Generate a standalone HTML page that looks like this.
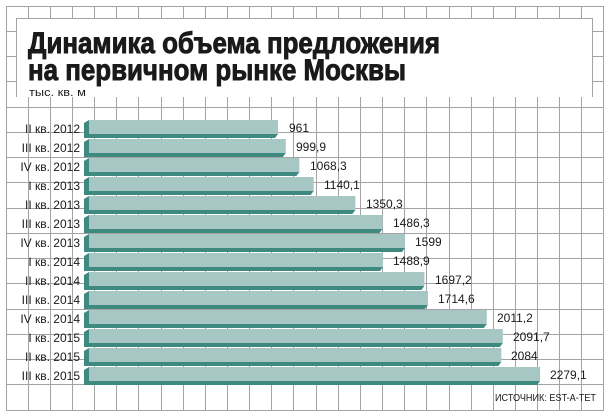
<!DOCTYPE html>
<html><head><meta charset="utf-8"><style>
html,body{margin:0;padding:0;background:#fff}
svg{display:block}
text{font-family:"Liberation Sans","DejaVu Sans",sans-serif;fill:#1a1a1a}
</style></head><body>
<svg width="612" height="418" viewBox="0 0 612 418" xmlns="http://www.w3.org/2000/svg">
<rect width="612" height="418" fill="#fff"/>
<g stroke="#a3a3a3" stroke-width="1" fill="none">
<path d="M6.5 6V410M28.5 6V410M50.5 6V410M72.5 6V410M94.5 6V410M116.5 6V410M138.5 6V410M161.5 6V410M183.5 6V410M205.5 6V410M227.5 6V410M249.5 6V410M271.5 6V410M293.5 6V410M316.5 6V410M338.5 6V410M360.5 6V410M382.5 6V410M404.5 6V410M426.5 6V410M449.5 6V410M471.5 6V410M493.5 6V410M515.5 6V410M537.5 6V410M559.5 6V410M581.5 6V410M603.5 6V410"/>
<path d="M6 6.5H604M6 31.5H604M6 56.5H604M6 81.5H604M6 107.5H604M6 132.5H604M6 157.5H604M6 182.5H604M6 208.5H604M6 233.5H604M6 258.5H604M6 283.5H604M6 309.5H604M6 334.5H604M6 359.5H604M6 384.5H604M6 410.5H604"/>
</g>
<rect x="16" y="18" width="577" height="79" fill="#fff"/>
<path d="M16.5 97V18.5H592.5V97" stroke="#a3a3a3" fill="none"/>
<rect x="27" y="85" width="62" height="12" fill="#fff"/>
<text x="28" y="53" font-size="30" font-weight="bold" stroke="#1a1a1a" stroke-width="0.9" textLength="412" lengthAdjust="spacingAndGlyphs">Динамика объема предложения</text>
<text x="28" y="80" font-size="30" font-weight="bold" stroke="#1a1a1a" stroke-width="0.9" textLength="378" lengthAdjust="spacingAndGlyphs">на первичном рынке Москвы</text>
<text x="29" y="96" font-size="11" textLength="57" lengthAdjust="spacingAndGlyphs">тыс. кв. м</text>
<g font-size="12" text-anchor="end">
<text x="80" y="133">II кв. 2012</text>
<text x="80" y="152">III кв. 2012</text>
<text x="80" y="171">IV кв. 2012</text>
<text x="80" y="190">I кв. 2013</text>
<text x="80" y="209">II кв. 2013</text>
<text x="80" y="228">III кв. 2013</text>
<text x="80" y="247">IV кв. 2013</text>
<text x="80" y="266">I кв. 2014</text>
<text x="80" y="285">II кв. 2014</text>
<text x="80" y="304">III кв. 2014</text>
<text x="80" y="323">IV кв. 2014</text>
<text x="80" y="342">I кв. 2015</text>
<text x="80" y="361">II кв. 2015</text>
<text x="80" y="380">III кв. 2015</text>
</g>
<g fill="#a7c7c4">
<rect x="89" y="120" width="189" height="14"/>
<rect x="89" y="139" width="196.8" height="14"/>
<rect x="89" y="158" width="210.4" height="14"/>
<rect x="89" y="177" width="224.7" height="14"/>
<rect x="89" y="196" width="266.4" height="14"/>
<rect x="89" y="215" width="293.5" height="14"/>
<rect x="89" y="234" width="315.9" height="14"/>
<rect x="89" y="253" width="294" height="14"/>
<rect x="89" y="272" width="335.4" height="14"/>
<rect x="89" y="291" width="338.9" height="14"/>
<rect x="89" y="310" width="397.8" height="14"/>
<rect x="89" y="329" width="413.8" height="14"/>
<rect x="89" y="348" width="412.3" height="14"/>
<rect x="89" y="367" width="451.1" height="14"/>
</g>
<g fill="#3f8a80">
<path d="M84 123L89 120V134H278L275 138H84Z"/>
<path d="M84 142L89 139V153H285.8L282.8 157H84Z"/>
<path d="M84 161L89 158V172H299.4L296.4 176H84Z"/>
<path d="M84 180L89 177V191H313.7L310.7 195H84Z"/>
<path d="M84 199L89 196V210H355.4L352.4 214H84Z"/>
<path d="M84 218L89 215V229H382.5L379.5 233H84Z"/>
<path d="M84 237L89 234V248H404.9L401.9 252H84Z"/>
<path d="M84 256L89 253V267H383L380 271H84Z"/>
<path d="M84 275L89 272V286H424.4L421.4 290H84Z"/>
<path d="M84 294L89 291V305H427.9L424.9 309H84Z"/>
<path d="M84 313L89 310V324H486.8L483.8 328H84Z"/>
<path d="M84 332L89 329V343H502.8L499.8 347H84Z"/>
<path d="M84 351L89 348V362H501.3L498.3 366H84Z"/>
<path d="M84 370L89 367V381H540.1L537.1 385H84Z"/>
</g>
<g font-size="12">
<text x="289" y="132">961</text>
<text x="296" y="151">999,9</text>
<text x="310" y="170">1068,3</text>
<text x="324" y="189">1140,1</text>
<text x="366" y="208">1350,3</text>
<text x="393" y="227">1486,3</text>
<text x="415" y="246">1599</text>
<text x="393" y="265">1488,9</text>
<text x="435" y="284">1697,2</text>
<text x="438" y="303">1714,6</text>
<text x="497" y="322">2011,2</text>
<text x="513" y="341">2091,7</text>
<text x="511" y="360">2084</text>
<text x="550" y="379">2279,1</text>
</g>
<text x="495" y="401" font-size="10" textLength="101" lengthAdjust="spacingAndGlyphs">ИСТОЧНИК: EST-A-TET</text>
</svg>
</body></html>
